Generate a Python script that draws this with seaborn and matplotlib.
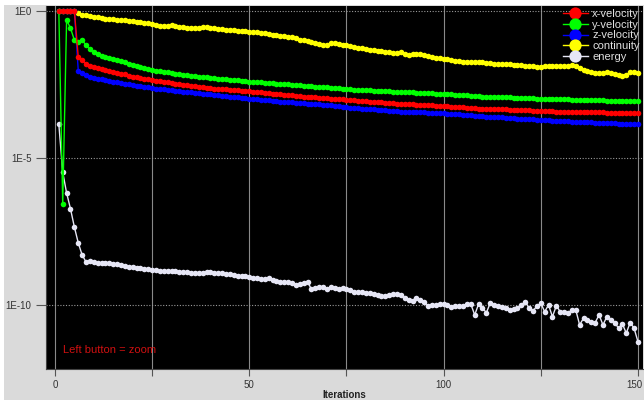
import numpy as np
import pandas as pd
import seaborn as sns
import matplotlib.pyplot as plt
import matplotlib.transforms as mtransforms
from matplotlib.patches import Rectangle

# iterations 1..150, residuals stored as log10 values
iteracoes = list(range(1, 151))

x_vel = [
    0, 0, 0, 0, 0, -1.56, -1.67, -1.80, -1.86, -1.91,
    -1.95, -1.98, -2.01, -2.04, -2.07, -2.10, -2.13, -2.16, -2.20, -2.23,
    -2.25, -2.28, -2.30, -2.33, -2.35, -2.37, -2.39, -2.41, -2.43, -2.45,
    -2.47, -2.49, -2.51, -2.53, -2.55, -2.56, -2.58, -2.60, -2.61, -2.63,
    -2.64, -2.65, -2.66, -2.67, -2.68, -2.69, -2.70, -2.71, -2.71, -2.72,
    -2.74, -2.75, -2.77, -2.78, -2.80, -2.81, -2.82, -2.84, -2.85, -2.86,
    -2.87, -2.88, -2.90, -2.91, -2.92, -2.93, -2.94, -2.95, -2.96, -2.97,
    -2.98, -2.99, -3.00, -3.01, -3.02, -3.03, -3.04, -3.05, -3.06, -3.07,
    -3.08, -3.09, -3.10, -3.11, -3.12, -3.13, -3.14, -3.15, -3.16, -3.17,
    -3.17, -3.18, -3.19, -3.19, -3.20, -3.21, -3.21, -3.22, -3.22, -3.23,
    -3.24, -3.25, -3.26, -3.27, -3.28, -3.29, -3.30, -3.31, -3.32, -3.32,
    -3.33, -3.33, -3.34, -3.34, -3.35, -3.35, -3.36, -3.36, -3.37, -3.37,
    -3.38, -3.38, -3.39, -3.39, -3.40, -3.40, -3.41, -3.41, -3.42, -3.42,
    -3.42, -3.43, -3.43, -3.43, -3.44, -3.44, -3.44, -3.45, -3.45, -3.45,
    -3.45, -3.46, -3.46, -3.46, -3.46, -3.47, -3.47, -3.47, -3.47, -3.48,
]

y_vel = [
    0, -6.55, -0.31, -0.58, -0.99, -1.05, -0.99, -1.16, -1.30, -1.40,
    -1.48, -1.53, -1.57, -1.61, -1.65, -1.68, -1.71, -1.75, -1.79, -1.83,
    -1.87, -1.91, -1.95, -1.98, -2.01, -2.03, -2.05, -2.07, -2.09, -2.11,
    -2.13, -2.15, -2.17, -2.19, -2.21, -2.22, -2.23, -2.25, -2.26, -2.28,
    -2.29, -2.31, -2.32, -2.33, -2.34, -2.35, -2.36, -2.37, -2.38, -2.40,
    -2.41, -2.42, -2.43, -2.44, -2.45, -2.46, -2.47, -2.48, -2.49, -2.50,
    -2.51, -2.52, -2.53, -2.54, -2.55, -2.56, -2.57, -2.58, -2.59, -2.60,
    -2.61, -2.62, -2.63, -2.64, -2.66, -2.67, -2.68, -2.68, -2.69, -2.70,
    -2.70, -2.71, -2.71, -2.72, -2.73, -2.73, -2.74, -2.75, -2.75, -2.76,
    -2.77, -2.77, -2.78, -2.78, -2.79, -2.80, -2.80, -2.81, -2.81, -2.82,
    -2.83, -2.84, -2.85, -2.86, -2.86, -2.87, -2.88, -2.89, -2.90, -2.91,
    -2.91, -2.92, -2.92, -2.93, -2.93, -2.94, -2.94, -2.95, -2.95, -2.96,
    -2.96, -2.97, -2.97, -2.98, -2.98, -2.99, -2.99, -3.00, -3.00, -3.00,
    -3.01, -3.01, -3.02, -3.02, -3.02, -3.03, -3.03, -3.03, -3.04, -3.04,
    -3.04, -3.05, -3.05, -3.05, -3.05, -3.06, -3.06, -3.06, -3.07, -3.07,
]

z_vel = [
    0, 0, 0, 0, 0, -2.03, -2.12, -2.18, -2.23, -2.27,
    -2.30, -2.33, -2.36, -2.38, -2.41, -2.43, -2.46, -2.48, -2.50, -2.52,
    -2.54, -2.56, -2.58, -2.60, -2.62, -2.64, -2.65, -2.67, -2.68, -2.70,
    -2.71, -2.73, -2.74, -2.76, -2.77, -2.79, -2.80, -2.82, -2.83, -2.84,
    -2.86, -2.87, -2.88, -2.90, -2.91, -2.92, -2.94, -2.95, -2.96, -2.98,
    -2.99, -3.00, -3.02, -3.03, -3.04, -3.05, -3.07, -3.08, -3.09, -3.10,
    -3.11, -3.12, -3.13, -3.14, -3.15, -3.16, -3.17, -3.18, -3.19, -3.20,
    -3.21, -3.22, -3.24, -3.26, -3.28, -3.29, -3.30, -3.31, -3.32, -3.33,
    -3.34, -3.35, -3.36, -3.37, -3.38, -3.39, -3.40, -3.41, -3.42, -3.43,
    -3.43, -3.44, -3.44, -3.45, -3.45, -3.46, -3.46, -3.47, -3.47, -3.48,
    -3.49, -3.50, -3.51, -3.52, -3.53, -3.54, -3.55, -3.56, -3.57, -3.58,
    -3.59, -3.60, -3.61, -3.62, -3.62, -3.63, -3.64, -3.65, -3.66, -3.67,
    -3.67, -3.68, -3.69, -3.70, -3.70, -3.71, -3.72, -3.73, -3.73, -3.74,
    -3.75, -3.75, -3.76, -3.77, -3.77, -3.78, -3.79, -3.79, -3.80, -3.80,
    -3.81, -3.81, -3.82, -3.82, -3.83, -3.83, -3.84, -3.84, -3.85, -3.85,
]

continuidade = [
    0, 0, 0, 0, 0, -0.08, -0.12, -0.15, -0.18, -0.20,
    -0.22, -0.24, -0.26, -0.27, -0.28, -0.30, -0.31, -0.32, -0.33, -0.35,
    -0.36, -0.38, -0.40, -0.42, -0.45, -0.48, -0.50, -0.52, -0.50, -0.48,
    -0.50, -0.53, -0.55, -0.57, -0.58, -0.59, -0.59, -0.56, -0.55, -0.57,
    -0.59, -0.61, -0.62, -0.63, -0.65, -0.66, -0.67, -0.68, -0.69, -0.70,
    -0.71, -0.73, -0.75, -0.76, -0.78, -0.80, -0.82, -0.84, -0.86, -0.88,
    -0.90, -0.93, -0.97, -1.00, -1.03, -1.06, -1.10, -1.13, -1.16, -1.17,
    -1.10, -1.09, -1.12, -1.14, -1.16, -1.19, -1.22, -1.25, -1.27, -1.29,
    -1.31, -1.33, -1.35, -1.36, -1.38, -1.40, -1.42, -1.44, -1.40, -1.45,
    -1.50, -1.48, -1.45, -1.47, -1.50, -1.53, -1.56, -1.59, -1.61, -1.63,
    -1.65, -1.67, -1.69, -1.71, -1.72, -1.72, -1.73, -1.73, -1.74, -1.75,
    -1.76, -1.78, -1.79, -1.80, -1.80, -1.81, -1.82, -1.83, -1.84, -1.85,
    -1.86, -1.87, -1.88, -1.89, -1.89, -1.88, -1.88, -1.88, -1.88, -1.88,
    -1.87, -1.86, -1.84, -1.88, -1.95, -2.01, -2.05, -2.08, -2.10, -2.12,
    -2.10, -2.08, -2.10, -2.14, -2.18, -2.21, -2.17, -2.09, -2.06, -2.12,
]

energia = [
    -3.85, -5.48, -6.19, -6.73, -7.35, -7.89, -8.30, -8.54, -8.52, -8.55,
    -8.56, -8.57, -8.58, -8.57, -8.60, -8.62, -8.65, -8.68, -8.70, -8.72,
    -8.73, -8.75, -8.77, -8.79, -8.81, -8.82, -8.83, -8.84, -8.84, -8.85,
    -8.86, -8.87, -8.87, -8.88, -8.90, -8.91, -8.91, -8.90, -8.88, -8.89,
    -8.90, -8.92, -8.93, -8.95, -8.96, -8.98, -9.00, -9.03, -9.03, -9.04,
    -9.07, -9.10, -9.13, -9.12, -9.09, -9.15, -9.20, -9.21, -9.21, -9.23,
    -9.25, -9.32, -9.28, -9.24, -9.21, -9.47, -9.42, -9.40, -9.38, -9.46,
    -9.38, -9.41, -9.46, -9.44, -9.45, -9.50, -9.55, -9.56, -9.57, -9.58,
    -9.60, -9.64, -9.66, -9.69, -9.70, -9.67, -9.64, -9.63, -9.66, -9.78,
    -9.82, -9.85, -9.78, -9.82, -9.90, -10.03, -10.00, -9.99, -9.98, -9.97,
    -10.00, -10.07, -10.05, -10.05, -10.02, -9.97, -9.97, -10.34, -9.97, -10.11,
    -10.26, -9.94, -10.00, -10.03, -10.06, -10.10, -10.17, -10.14, -10.11, -10.00,
    -9.89, -10.11, -10.19, -10.05, -9.94, -10.23, -10.00, -10.40, -10.03, -10.23,
    -10.25, -10.28, -10.17, -10.17, -10.68, -10.45, -10.50, -10.58, -10.60, -10.34,
    -10.68, -10.40, -10.51, -10.60, -10.79, -10.65, -10.96, -10.60, -10.79, -11.25,
]

nomes = ["x-velocity", "y-velocity", "z-velocity", "continuity", "energy"]
cores = {"x-velocity": "#ff0000", "y-velocity": "#00ff00", "z-velocity": "#0000ff",
         "continuity": "#ffff00", "energy": "#e6e6f5"}

# tabela longa para o seaborn
series = [x_vel, y_vel, z_vel, continuidade, energia]
partes = []
for nome, vals in zip(nomes, series):
    partes.append(pd.DataFrame({"Iterations": iteracoes,
                                "residual": 10 ** np.array(vals),
                                "serie": nome}))
df = pd.concat(partes, ignore_index=True)

plt.rcParams["font.family"] = ["Liberation Sans", "DejaVu Sans"]

fig = plt.figure(figsize=(6.44, 4.03), dpi=100, facecolor="white")
fig.patches.append(Rectangle((0.006, 0.008), 0.994, 0.98, transform=fig.transFigure,
                             facecolor="#dadada", edgecolor="none", zorder=-10))
ax = fig.add_axes([46 / 644, 1 - 369 / 403, 597 / 644, 363 / 403])
ax.set_facecolor("black")

ordem = ["energy", "continuity", "z-velocity", "y-velocity", "x-velocity"]
sns.lineplot(data=df, x="Iterations", y="residual", hue="serie", hue_order=ordem,
             palette=cores, marker="o", markersize=4, markeredgewidth=0,
             linewidth=1, legend=False, ax=ax, sort=False)

ax.set_yscale("log")
ax.set_xlim(-2.3, 151.3)
ax.set_ylim(10 ** -12.18, 10 ** 0.17)

ax.set_yticks([1, 1e-5, 1e-10])
ax.set_yticklabels(["1E0", "1E-5", "1E-10"])
ax.yaxis.set_minor_locator(plt.NullLocator())
ax.set_xticks([0, 25, 50, 75, 100, 125, 150])
ax.set_xticklabels(["0", "", "50", "", "100", "", "150"])
ax.tick_params(axis="both", colors="#555555", labelcolor="#333333", labelsize=7,
               length=5, width=0.8, direction="out")
ax.tick_params(axis="y", length=7)
ax.tick_params(axis="x", pad=3)

# o rotulo 150 fica na borda: puxa um pouco para dentro
ultimo = ax.get_xticklabels()[-1]
ultimo.set_transform(ultimo.get_transform() +
                     mtransforms.ScaledTranslation(-4 / 100, 0, fig.dpi_scale_trans))

ax.grid(False)
for xv in [0, 25, 50, 75, 100, 125, 150]:
    ax.axvline(xv, color="#8a8a8a", linewidth=0.8, zorder=0)
for yv in [1, 1e-5, 1e-10]:
    ax.axhline(yv, color="#9a9a9a", linewidth=0.8, linestyle=(0, (1, 1.5)), zorder=0)

for lado in ["top", "right"]:
    ax.spines[lado].set_visible(False)
for lado in ["left", "bottom"]:
    ax.spines[lado].set_color("#444444")

ax.set_xlabel("Iterations", fontsize=7, fontweight="bold", color="#222222", labelpad=0)
ax.set_ylabel("")

# legenda na ordem original
linhas = {nome: ln for nome, ln in zip(ordem, ax.get_lines()[:5])}
leg = ax.legend([linhas[n] for n in nomes], nomes, loc="upper right", frameon=False,
                fontsize=8, labelcolor="#e0e0e0", markerscale=2.2, handlelength=2.2,
                handletextpad=0.4, labelspacing=0.05, borderaxespad=0.1, borderpad=0.2)

ax.text(0.028, 0.045, "Left button = zoom", transform=ax.transAxes, color="#d01010",
        fontsize=8)

plt.savefig("out.png", dpi=100, facecolor=fig.get_facecolor())
